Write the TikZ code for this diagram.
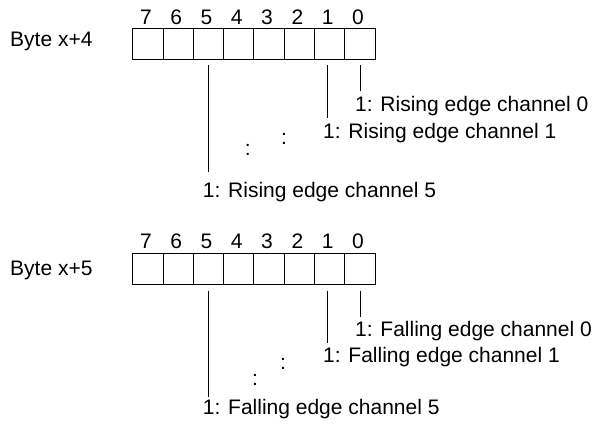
\documentclass[tikz,border=0pt]{standalone}
\usepackage{fontspec}
\setmainfont{Liberation Sans}
\begin{document}
\begin{tikzpicture}[x=1pt,y=1pt,
 cell/.style={draw, line width=1pt, minimum width=30.3pt, minimum height=31pt, inner sep=0pt, outer sep=0pt},
 lbl/.style={font=\fontsize{21}{24}\selectfont, inner sep=0pt, anchor=base west},
 num/.style={font=\fontsize{21}{24}\selectfont, inner sep=0pt, anchor=base},
 lead/.style={line width=1pt}]
\useasboundingbox (0,0) rectangle (594,-429);
% ---------- Byte x+4 ----------
\node[lbl] (byte4) at (10,-46) {Byte x+4};
\foreach \b in {0,...,7}{
  \node[cell] (t\b) at ({132.7+(7.5-\b)*30.3},-43.8) {};
  \node[num] (tn\b) at ({132.7+(7.5-\b)*30.3-2},-24) {\b};
}
\node[lbl] (tc0) at (355,-111.7) {1: Rising edge channel 0};
\node[lbl] (tc1) at (323,-138.3) {1: Rising edge channel 1};
\node[lbl] (tc5) at (202.7,-197.7) {1: Rising edge channel 5};
\coordinate (ts5) at (208.5,-65);
\coordinate (te5) at (208.5,-172);
\coordinate (ts1) at (327,-65);
\coordinate (te1) at (327,-118);
\coordinate (ts0) at (360,-65);
\coordinate (te0) at (360,-91);
\draw[lead] (ts5) -- (te5);
\draw[lead] (ts1) -- (te1);
\draw[lead] (ts0) -- (te0);
\node[num] (td1) at (247.7,-155.3) {:};
\node[num] (td2) at (284,-144.3) {:};
% ---------- Byte x+5 ----------
\node[lbl] (byte5) at (10,-275) {Byte x+5};
\foreach \b in {0,...,7}{
  \node[cell] (b\b) at ({132.7+(7.5-\b)*30.3},-268.5) {};
  \node[num] (bn\b) at ({132.7+(7.5-\b)*30.3-2},-248.3) {\b};
}
\node[lbl] (bc0) at (355,-336.7) {1: Falling edge channel 0};
\node[lbl] (bc1) at (323,-362.7) {1: Falling edge channel 1};
\node[lbl] (bc5) at (202.7,-414) {1: Falling edge channel 5};
\coordinate (bs5) at (208.5,-290.5);
\coordinate (be5) at (208.5,-396.7);
\coordinate (bs1) at (327,-290.5);
\coordinate (be1) at (327,-343);
\coordinate (bs0) at (360,-290.5);
\coordinate (be0) at (360,-316.7);
\draw[lead] (bs5) -- (be5);
\draw[lead] (bs1) -- (be1);
\draw[lead] (bs0) -- (be0);
\node[num] (bd1) at (255,-385.5) {:};
\node[num] (bd2) at (283,-369.3) {:};
\end{tikzpicture}
\end{document}
